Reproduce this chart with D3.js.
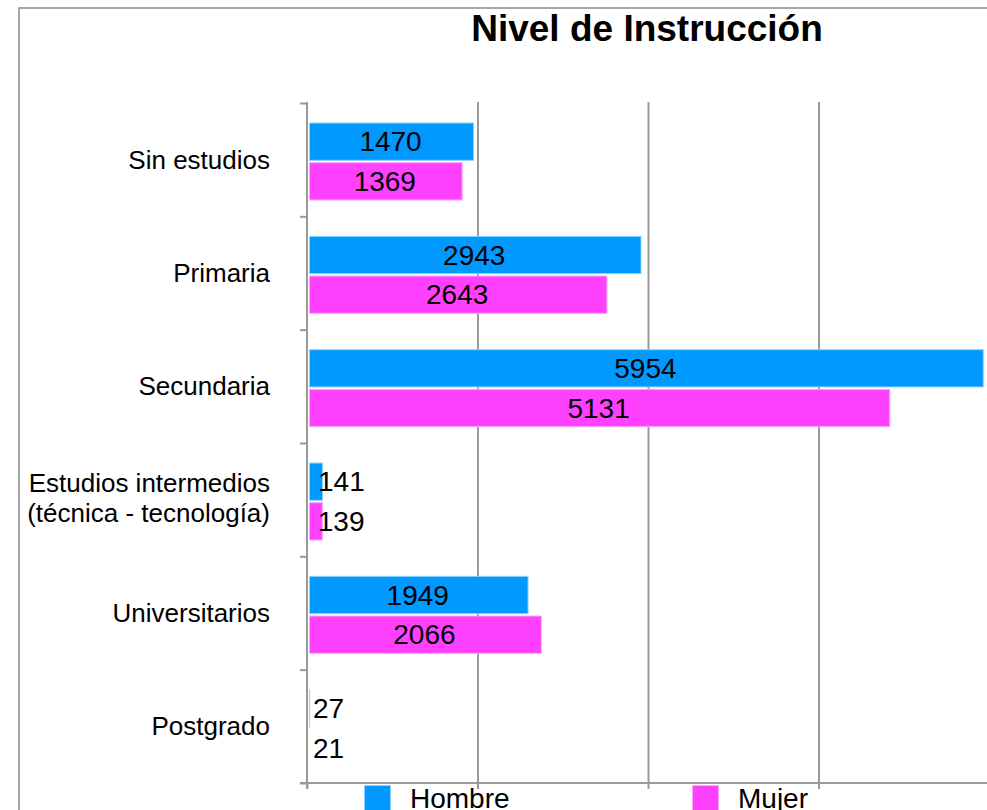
<!DOCTYPE html>
<html>
<head>
<meta charset="utf-8">
<script src="https://cdn.jsdelivr.net/npm/d3@7"></script>
<style>
  html, body { margin: 0; padding: 0; background: #fff; }
  svg { display: block; font-family: "Liberation Sans", Arial, sans-serif; }
</style>
</head>
<body>
<div id="chart"></div>
<script>
const categories = ['Sin estudios', 'Primaria', 'Secundaria',
  'Estudios intermedios\n(técnica - tecnología)', 'Universitarios', 'Postgrado'];
const series = ['Hombre', 'Mujer'];
const hombre = [1470, 2943, 5954, 141, 1949, 27];
const mujer = [1369, 2643, 5131, 139, 2066, 21];
const xTicks = [0, 1500, 3000, 4500, 6000];
const colors = ['#0099ff', '#ff40ff'];
const strokes = ['#8fd3ff', '#ffa6ff'];

const WIDTH = 987, HEIGHT = 810;
const GRID = '#999999';
const plot = { left: 307, right: 989, top: 103, bottom: 783 };

const svg = d3.select('#chart').append('svg')
  .attr('width', WIDTH).attr('height', HEIGHT);

// frame (top + left)
svg.append('path')
  .attr('d', `M19,${HEIGHT} L19,8 L${WIDTH},8`)
  .attr('fill', 'none').attr('stroke', '#8a8a8a').attr('stroke-width', 1.5);

// title
svg.append('text')
  .attr('x', 647).attr('y', 41)
  .attr('text-anchor', 'middle')
  .style('font-size', '37px').style('font-weight', 'bold')
  .text('Nivel de Instrucción');

const x = d3.scaleLinear().domain([0, 6000]).range([plot.left, plot.right]);
const y = d3.scaleBand().domain(categories).range([plot.top, plot.bottom]);
const yInner = d3.scaleBand().domain(series).range([20, 97]).paddingInner(0.06);
const yEdges = d3.scaleLinear().domain([0, categories.length]).range([plot.top, plot.bottom]);

// vertical gridlines
const grid = svg.append('g')
  .attr('transform', `translate(0,${plot.bottom})`)
  .call(d3.axisBottom(x).tickValues(xTicks.slice(1)).tickSize(-(plot.bottom - plot.top) - 1).tickFormat(''));
grid.select('.domain').remove();
grid.selectAll('line').attr('stroke', GRID).attr('stroke-width', 2);

// bottom ticks
const xAxis = svg.append('g')
  .attr('transform', `translate(0,${plot.bottom})`)
  .call(d3.axisBottom(x).tickValues(xTicks).tickSize(6).tickFormat(''));
xAxis.select('.domain').remove();
xAxis.selectAll('line').attr('stroke', GRID).attr('stroke-width', 2);

// left ticks at band edges
const yAxis = svg.append('g')
  .attr('transform', `translate(${plot.left},0)`)
  .call(d3.axisLeft(yEdges).tickValues(d3.range(categories.length + 1)).tickSize(7).tickFormat(''));
yAxis.select('.domain').remove();
yAxis.selectAll('line').attr('stroke', GRID).attr('stroke-width', 2);

// axis lines
svg.append('line')
  .attr('x1', plot.left).attr('x2', plot.left)
  .attr('y1', plot.top - 1).attr('y2', plot.bottom + 6)
  .attr('stroke', GRID).attr('stroke-width', 2);
svg.append('line')
  .attr('x1', plot.left - 7).attr('x2', WIDTH)
  .attr('y1', plot.bottom).attr('y2', plot.bottom)
  .attr('stroke', GRID).attr('stroke-width', 2);

// category labels
svg.append('g').selectAll('text')
  .data(categories)
  .join('text')
  .attr('text-anchor', 'end')
  .style('font-size', '26px')
  .each(function (d) {
    const lines = d.split('\n');
    const cy = y(d) + y.bandwidth() / 2 - (lines.length > 1 ? 2 : 0);
    const lh = 30;
    d3.select(this).selectAll('tspan')
      .data(lines)
      .join('tspan')
      .attr('x', 270)
      .attr('y', (l, i) => cy + (i - (lines.length - 1) / 2) * lh)
      .attr('dy', '0.35em')
      .text(l => l);
  });

// bars
const rows = categories.map((c, i) => ({ cat: c, values: [hombre[i], mujer[i]] }));
const groups = svg.append('g').selectAll('g')
  .data(rows)
  .join('g')
  .attr('transform', d => `translate(0,${y(d.cat)})`);

groups.selectAll('rect')
  .data(d => d.values.map((v, j) => ({ s: series[j], v, j })))
  .join('rect')
  .attr('x', x(0) + 2.5)
  .attr('y', d => yInner(d.s))
  .attr('width', d => Math.max(0, x(d.v) - x(0) - 3))
  .attr('height', yInner.bandwidth())
  .attr('fill', d => colors[d.j])
  .attr('stroke', d => strokes[d.j])
  .attr('stroke-width', 1);

groups.selectAll('text')
  .data(d => d.values.map((v, j) => ({ s: series[j], v, j })))
  .join('text')
  .attr('y', d => yInner(d.s) + yInner.bandwidth() / 2)
  .attr('dy', '0.35em')
  .style('font-size', '28px')
  .each(function (d) {
    const sel = d3.select(this);
    const w = x(d.v) - x(0);
    if (w > 70) {
      sel.attr('x', x(0) + w / 2).attr('text-anchor', 'middle');
    } else {
      sel.attr('x', Math.max(x(d.v) - 5, x(0) + 6)).attr('text-anchor', 'start');
    }
  })
  .text(d => d.v);

// legend
const legendX = [364, 692];
const legend = svg.append('g').selectAll('g')
  .data(series)
  .join('g')
  .attr('transform', (d, i) => `translate(${legendX[i]},785)`);
legend.append('rect')
  .attr('x', 0.5).attr('y', 0.5).attr('width', 26).attr('height', 30)
  .attr('fill', (d, i) => colors[i])
  .attr('stroke', (d, i) => strokes[i]);
legend.append('text')
  .attr('x', 46).attr('y', 23)
  .style('font-size', '28px')
  .text(d => d);
</script>
</body>
</html>
